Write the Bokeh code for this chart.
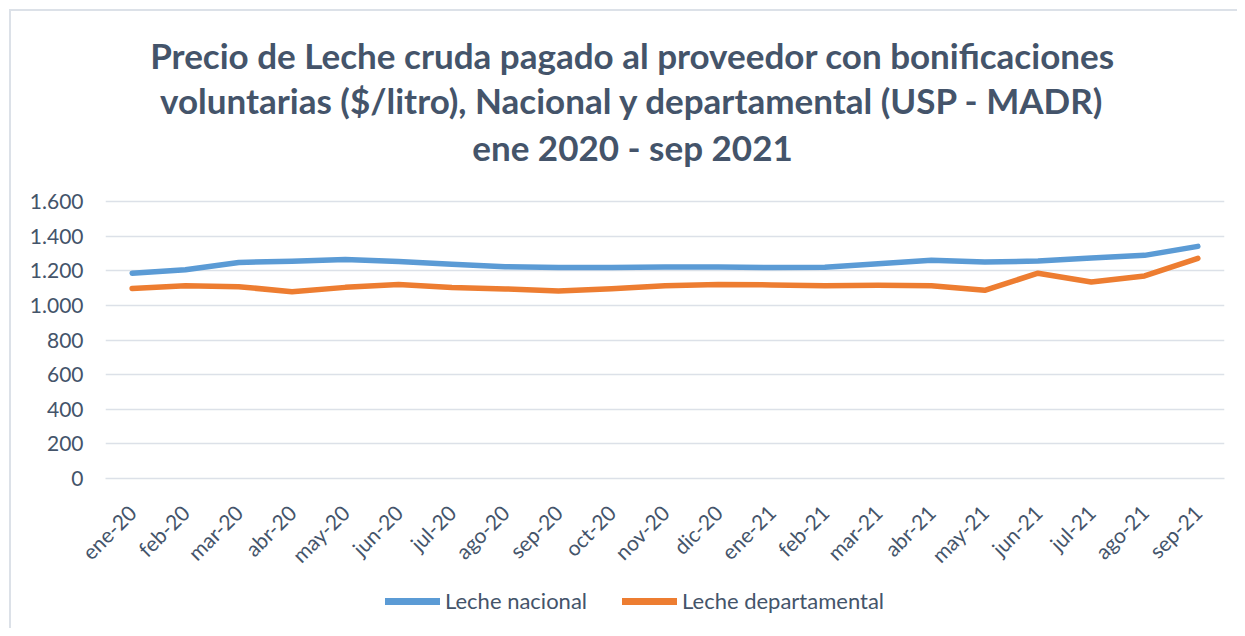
import math
from bokeh.plotting import figure
from bokeh.layouts import column
from bokeh.models import (FactorRange, Range1d, Label, Legend, LegendItem,
                          FixedTicker, CustomJSTickFormatter)
from bokeh.embed import file_html
from bokeh.resources import INLINE

months = ["ene-20", "feb-20", "mar-20", "abr-20", "may-20", "jun-20", "jul-20",
          "ago-20", "sep-20", "oct-20", "nov-20", "dic-20", "ene-21", "feb-21",
          "mar-21", "abr-21", "may-21", "jun-21", "jul-21", "ago-21", "sep-21"]
nacional = [1186, 1206, 1248, 1255, 1265, 1254, 1238, 1223, 1219, 1219, 1221,
            1221, 1219, 1220, 1240, 1261, 1250, 1256, 1273, 1289, 1341]
departamental = [1098, 1114, 1108, 1079, 1104, 1120, 1103, 1095, 1083, 1096, 1114,
                 1121, 1118, 1114, 1116, 1114, 1087, 1186, 1135, 1170, 1272]
y_ticks = [0, 200, 400, 600, 800, 1000, 1200, 1400, 1600]
title_lines = ["Precio de Leche cruda pagado al proveedor con bonificaciones",
               "voluntarias ($/litro), Nacional y departamental (USP - MADR)",
               "ene 2020 - sep 2021"]
series_names = ["Leche nacional", "Leche departamental"]

TXT = "#44546A"
GRID = "#DCE1E8"
BLUE, ORANGE = "#5B9BD5", "#ED7D31"
FONT = "Lato"
W = 1226
H_MAIN, H_LEG = 575, 42
BOTTOM = 108
GRID_TOP_PX = 190      # distance of the 1.600 line from the top of the canvas
GRID_SPAN_PX = 277     # pixels from 0 to 1.600
Y_TOP = 1600
y_max = Y_TOP + GRID_TOP_PX * Y_TOP / GRID_SPAN_PX   # frame reaches the canvas top (room for the title)

# ---- main chart ----
p = figure(x_range=FactorRange(*months), y_range=Range1d(0, y_max),
           width=W, height=H_MAIN, output_backend="svg", toolbar_location=None,
           min_border_left=94, min_border_right=13, min_border_top=0,
           min_border_bottom=BOTTOM)
p.outline_line_color = None
p.background_fill_color = "white"
p.border_fill_color = "white"

p.line(months, nacional, line_color=BLUE, line_width=5.5, line_cap="round", line_join="round")
p.line(months, departamental, line_color=ORANGE, line_width=5.5, line_cap="round", line_join="round")

p.yaxis.ticker = FixedTicker(ticks=y_ticks)
p.yaxis.formatter = CustomJSTickFormatter(code="return tick.toString().replace(/\\B(?=(\\d{3})+(?!\\d))/g, '.');")
p.yaxis.axis_line_color = None
p.yaxis.major_tick_line_color = None
p.yaxis.minor_tick_line_color = None
p.yaxis.major_label_text_font = FONT
p.yaxis.major_label_text_font_size = "21px"
p.yaxis.major_label_text_color = TXT
p.yaxis.major_label_standoff = 16

p.xaxis.axis_line_color = GRID
p.xaxis.axis_line_width = 1.5
p.xaxis.major_tick_line_color = None
p.xaxis.minor_tick_line_color = None
p.xaxis.major_label_orientation = math.pi / 4
p.xaxis.major_label_text_font = FONT
p.xaxis.major_label_text_font_size = "21px"
p.xaxis.major_label_text_color = TXT
p.xaxis.major_label_standoff = 24

p.xgrid.grid_line_color = None
p.ygrid.grid_line_color = GRID
p.ygrid.grid_line_width = 1.5

frame_h = H_MAIN - BOTTOM
# Label screen units are measured from the frame's left / bottom edges
ys = [frame_h - 43, frame_h - 88, frame_h - 135]
for t, yy in zip(title_lines, ys):
    p.add_layout(Label(x=527, y=yy, x_units="screen", y_units="screen", text=t,
                       text_font=FONT, text_font_style="bold", text_font_size="35px",
                       text_color=TXT, text_align="center", text_baseline="middle"))

# ---- legend strip (its lines lie outside its own y range, only the legend shows) ----
q = figure(x_range=p.x_range, y_range=Range1d(0, 1), width=W, height=H_LEG,
           output_backend="svg", toolbar_location=None, x_axis_type=None,
           y_axis_type=None, min_border=0)
q.outline_line_color = None
q.grid.visible = False
r1 = q.line(months, nacional, line_color=BLUE, line_width=7, line_cap="round")
r2 = q.line(months, departamental, line_color=ORANGE, line_width=7, line_cap="round")

legend = Legend(items=[LegendItem(label=series_names[0], renderers=[r1]),
                       LegendItem(label=series_names[1], renderers=[r2])],
                orientation="horizontal", location=(280, 14))
legend.glyph_width = 55
legend.glyph_height = 20
legend.label_standoff = 5
legend.label_width = 142
legend.spacing = 35
legend.padding = 0
legend.margin = 0
legend.border_line_color = None
legend.background_fill_alpha = 0
legend.label_text_font = FONT
legend.label_text_font_size = "22px"
legend.label_text_color = TXT
legend.label_height = 20
q.add_layout(legend, "center")

page = column(p, q, spacing=0)
page.margin = (9, 0, 0, 9)
page.styles = {"border-left": "2px solid #DCE1E8", "border-top": "2px solid #DCE1E8"}

open("out.html", "w").write(file_html(page, INLINE))
